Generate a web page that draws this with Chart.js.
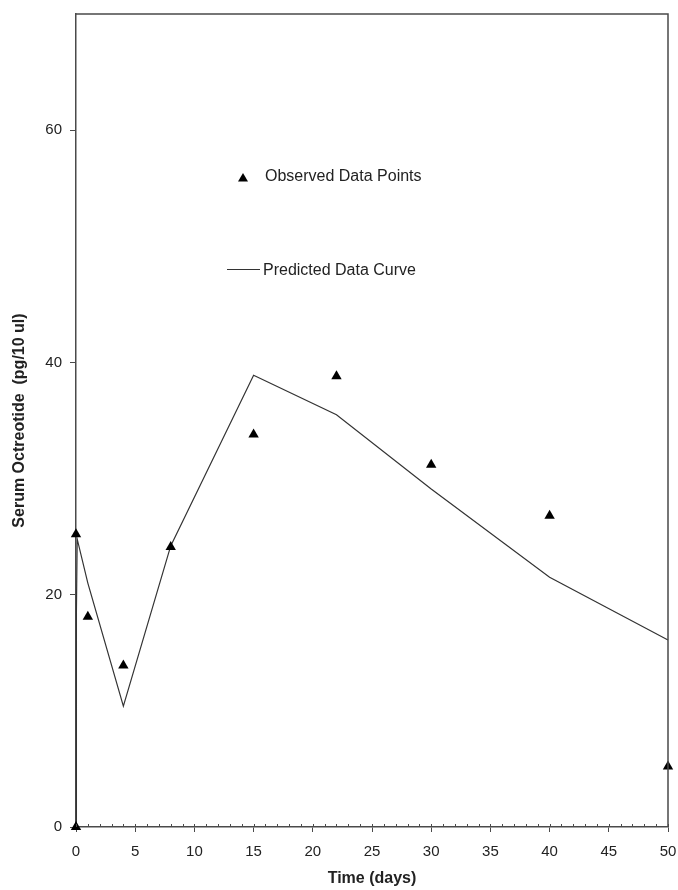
<!DOCTYPE html>
<html>
<head>
<meta charset="utf-8">
<script src="https://cdn.jsdelivr.net/npm/chart.js@4.4.1/dist/chart.umd.min.js"></script>
<style>
  html, body { margin: 0; padding: 0; background: #ffffff; }
  #wrap { width: 678px; height: 890px; }
</style>
</head>
<body>
<div id="wrap"><canvas id="c" width="678" height="890"></canvas></div>
<script>
// Observed serum octreotide samples
const obsDays = [0, 0, 1, 4, 8, 15, 22, 30, 40, 50];
const obsValues = [0, 25.2, 18.1, 13.9, 24.1, 33.8, 38.8, 31.2, 26.8, 5.2];

// Model-predicted concentration curve
const curveDays = [0, 0.02, 0.05, 0.1, 1, 4, 8, 15, 22, 30, 40, 50];
const curveValues = [0, 6, 18.5, 24.8, 21, 10.4, 24.2, 38.9, 35.5, 29.1, 21.5, 16.1];

// Axis ticks
const xMajorTicks = [0, 5, 10, 15, 20, 25, 30, 35, 40, 45, 50];
const yTicks = [0, 20, 40, 60];

const legendLabels = ['Observed Data Points', 'Predicted Data Curve'];

const AXIS_COLOR = '#4a4a4a';
const TEXT_COLOR = '#222222';
const TICK_FONT = { family: 'Liberation Sans, Arial, sans-serif', size: 15 };
const TITLE_FONT = { family: 'Liberation Sans, Arial, sans-serif', size: 16, weight: 'bold' };

// Frame, minor x ticks and the in-plot legend
const decorations = {
  id: 'decorations',
  afterDraw(chart) {
    const { ctx, chartArea: a, scales: { x } } = chart;
    ctx.save();
    ctx.strokeStyle = AXIS_COLOR;
    ctx.lineWidth = 1.5;
    ctx.beginPath();
    ctx.moveTo(a.left, a.top);
    ctx.lineTo(a.right, a.top);
    ctx.lineTo(a.right, a.bottom);
    ctx.stroke();

    ctx.lineWidth = 1;
    ctx.beginPath();
    for (let d = x.min; d <= x.max; d++) {
      const px = Math.round(x.getPixelForValue(d)) + 0.5;
      ctx.moveTo(px, a.bottom - 3);
      ctx.lineTo(px, a.bottom);
    }
    ctx.stroke();

    // legend
    const obs = chart.data.datasets[0];
    const pred = chart.data.datasets[1];
    ctx.fillStyle = obs.backgroundColor;
    const tx = 243, ty = 178, r = 5;
    ctx.beginPath();
    ctx.moveTo(tx, ty - r);
    ctx.lineTo(tx + r, ty + r * 0.7);
    ctx.lineTo(tx - r, ty + r * 0.7);
    ctx.closePath();
    ctx.fill();

    ctx.strokeStyle = pred.borderColor;
    ctx.lineWidth = pred.borderWidth;
    ctx.beginPath();
    ctx.moveTo(227, 269.5);
    ctx.lineTo(260, 269.5);
    ctx.stroke();

    ctx.fillStyle = TEXT_COLOR;
    ctx.font = '16px "Liberation Sans", Arial, sans-serif';
    ctx.textBaseline = 'middle';
    ctx.textAlign = 'left';
    ctx.fillText(legendLabels[0], 265, 177);
    ctx.fillText(legendLabels[1], 263, 271);
    ctx.restore();
  }
};

new Chart(document.getElementById('c'), {
  type: 'scatter',
  data: {
    datasets: [
      {
        label: legendLabels[0],
        data: obsDays.map((d, i) => ({ x: d, y: obsValues[i] })),
        pointStyle: 'triangle',
        pointRadius: 6,
        backgroundColor: '#000000',
        borderColor: '#000000',
        borderWidth: 0,
        showLine: false,
        clip: false,
        order: 0
      },
      {
        label: legendLabels[1],
        data: curveDays.map((d, i) => ({ x: d, y: curveValues[i] })),
        showLine: true,
        borderColor: '#333333',
        borderWidth: 1.2,
        pointRadius: 0,
        tension: 0,
        fill: false,
        clip: false,
        order: 1
      }
    ]
  },
  options: {
    responsive: false,
    animation: false,
    layout: { autoPadding: false, padding: { top: 14, right: 10, left: 0, bottom: 0 } },
    plugins: { legend: { display: false }, tooltip: { enabled: false } },
    scales: {
      x: {
        type: 'linear',
        min: 0,
        max: 50,
        afterBuildTicks(scale) { scale.ticks = xMajorTicks.map(v => ({ value: v })); },
        afterFit(scale) {
          scale.height = 63;
          scale.paddingLeft = 0;
          scale.paddingRight = 0;
        },
        ticks: { color: TEXT_COLOR, font: TICK_FONT, padding: 11, maxRotation: 0, autoSkip: false },
        grid: { drawOnChartArea: false, drawTicks: true, tickLength: 5, color: AXIS_COLOR },
        border: { display: true, color: AXIS_COLOR, width: 1.5 },
        title: { display: true, text: 'Time (days)', color: TEXT_COLOR, font: TITLE_FONT, padding: { top: 0, bottom: 2 } }
      },
      y: {
        type: 'linear',
        min: 0,
        max: 70,
        afterBuildTicks(scale) { scale.ticks = yTicks.map(v => ({ value: v })); },
        afterFit(scale) {
          scale.width = 76;
          scale.paddingTop = 0;
          scale.paddingBottom = 0;
        },
        ticks: { color: TEXT_COLOR, font: TICK_FONT, padding: 8, autoSkip: false },
        grid: { drawOnChartArea: false, drawTicks: true, tickLength: 6, color: AXIS_COLOR },
        border: { display: true, color: AXIS_COLOR, width: 1.5 },
        title: { display: true, text: 'Serum Octreotide  (pg/10 ul)', color: TEXT_COLOR, font: TITLE_FONT, padding: { top: 10, bottom: 0 } }
      }
    }
  },
  plugins: [decorations]
});
</script>
</body>
</html>
